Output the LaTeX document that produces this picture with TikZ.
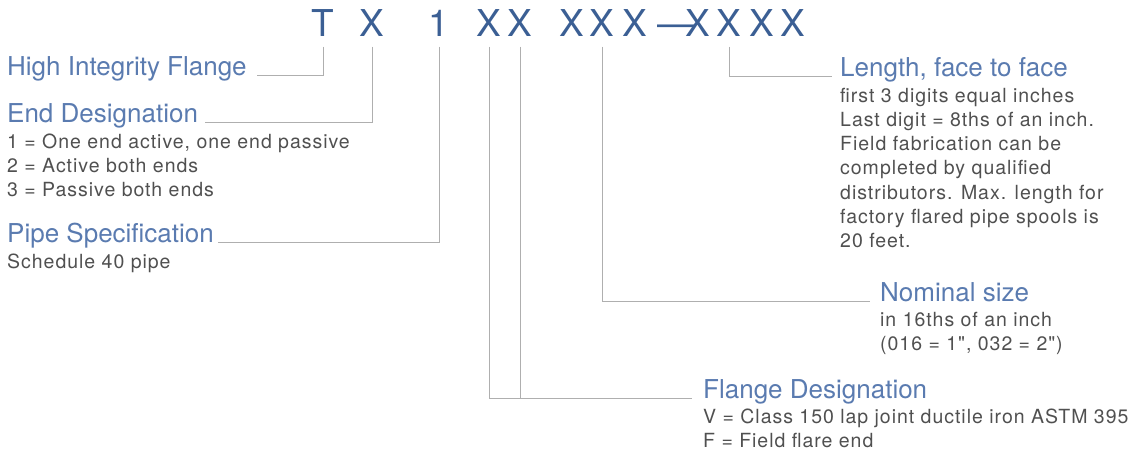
\documentclass[tikz,border=0pt]{standalone}
\usepackage{fontspec}
\setmainfont{TeX Gyre Heros}
\newfontfamily\bodyfont[LetterSpace=5]{TeX Gyre Heros}
\usepackage{tikz}
\definecolor{codeblue}{HTML}{3B5F94}
\definecolor{headblue}{HTML}{5A7BB0}
\definecolor{bodygray}{HTML}{505050}
\definecolor{leadgray}{HTML}{AFAFAF}

\begin{document}
\begin{tikzpicture}[x=1pt, y=-1pt, every node/.style={inner sep=0pt},
  ch/.style={anchor=base, font=\fontsize{37}{37}\selectfont, text=codeblue},
  head/.style={anchor=base west, font=\fontsize{26}{26}\selectfont, text=headblue},
  note/.style={anchor=base west, align=left, font=\bodyfont\fontsize{19.5}{24.3}\selectfont, text=bodygray},
  lead/.style={draw=leadgray, line width=1pt}]
\useasboundingbox (0,0) rectangle (1140,453);
% part number (baseline of the letters)
\node[ch] (cT) at (323,36.5) {T};
\node[ch] (cX1) at (372,36.5) {X};
\node[ch] (cOne) at (439,36.5) {1};
\node[ch] (cX2) at (489,36.5) {X};
\node[ch] (cX3) at (520,36.5) {X};
\node[ch] (cX4) at (572,36.5) {X};
\node[ch] (cX5) at (602,36.5) {X};
\node[ch] (cX6) at (635,36.5) {X};
\node[ch] (cDash) at (676,36.5) {---};
\node[ch] (cX7) at (698,36.5) {X};
\node[ch] (cX8) at (729,36.5) {X};
\node[ch] (cX9) at (762,36.5) {X};
\node[ch] (cX10) at (793,36.5) {X};
% left column (notes sit on the baseline of their last line)
\node[head] (hif) at (7,75) {High Integrity Flange};
\node[head] (endd) at (7,122) {End Designation};
\node[note] (endn) at (7,196.6) {1 = One end active, one end passive\\2 = Active both ends\\3 = Passive both ends};
\node[head] (pipe) at (7,242) {Pipe Specification};
\node[note] (pipen) at (7,268) {Schedule 40 pipe};
% right side
\node[head] (len) at (840,76) {Length, face to face};
\node[note] (lenn) at (840,247.8) {first 3 digits equal inches\\Last digit = 8ths of an inch.\\Field fabrication can be\\completed by qualified\\distributors. Max. length for\\factory flared pipe spools is\\20 feet.};
\node[head] (nom) at (880,301) {Nominal size};
\node[note] (nomn) at (880,350.3) {in 16ths of an inch\\(016 = 1", 032 = 2")};
\node[head] (flg) at (703,398) {Flange Designation};
\node[note] (flgn) at (703,447.3) {V = Class 150 lap joint ductile iron ASTM 395\\F = Field flare end};
% leaders
\draw[lead] ([yshift=-10pt]cT.south) |- ([xshift=10pt]hif.base east);
\draw[lead] ([yshift=-10pt]cX1.south) |- ([xshift=7pt]endd.base east);
\draw[lead] ([yshift=-10pt]cOne.south) |- ([xshift=4pt]pipe.base east);
\draw[lead] ([yshift=-10pt]cX2.south) |- ([xshift=-11pt]flg.base west);
\draw[lead] ([yshift=-10pt]cX3.south) |- ([xshift=-11pt]flg.base west);
\draw[lead] ([yshift=-10pt]cX5.south) |- ([xshift=-10pt]nom.base west);
\draw[lead] ([yshift=-10pt]cX8.south) |- ([xshift=-8pt]len.base west);
\end{tikzpicture}
\end{document}
